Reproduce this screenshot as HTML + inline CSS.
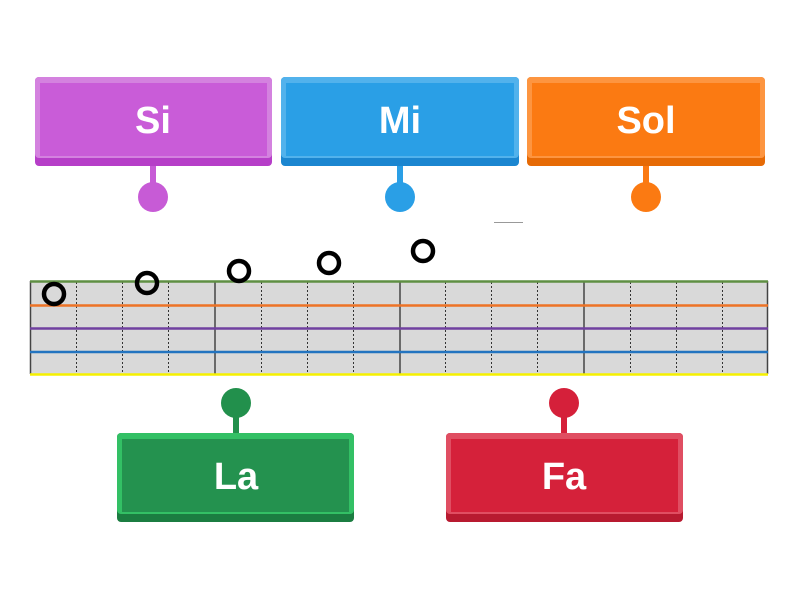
<!DOCTYPE html>
<html><head><style>html,body{margin:0;padding:0;background:#fff}svg{display:block}</style></head>
<body>
<svg width="800" height="600" viewBox="0 0 800 600" xmlns="http://www.w3.org/2000/svg" font-family="'Liberation Sans',sans-serif">
<!-- staff -->
<rect x="30" y="281" width="738" height="93" fill="#d9d9d9"/>
<g stroke="#333" stroke-width="1" stroke-dasharray="2,2">
<line x1="76.5" y1="282" x2="76.5" y2="374"/><line x1="122.5" y1="282" x2="122.5" y2="374"/><line x1="168.5" y1="282" x2="168.5" y2="374"/>
<line x1="261.5" y1="282" x2="261.5" y2="374"/><line x1="307.5" y1="282" x2="307.5" y2="374"/><line x1="353.5" y1="282" x2="353.5" y2="374"/>
<line x1="445.5" y1="282" x2="445.5" y2="374"/><line x1="491.5" y1="282" x2="491.5" y2="374"/><line x1="537.5" y1="282" x2="537.5" y2="374"/>
<line x1="630.5" y1="282" x2="630.5" y2="374"/><line x1="676.5" y1="282" x2="676.5" y2="374"/><line x1="722.5" y1="282" x2="722.5" y2="374"/>
</g>
<g stroke="#444" stroke-width="1.5">
<line x1="30.5" y1="281" x2="30.5" y2="374"/><line x1="215" y1="281" x2="215" y2="374"/><line x1="400" y1="281" x2="400" y2="374"/><line x1="584" y1="281" x2="584" y2="374"/><line x1="767.5" y1="281" x2="767.5" y2="374"/>
</g>
<line x1="30" y1="281.5" x2="768" y2="281.5" stroke="#5f8f43" stroke-width="2.5"/>
<line x1="30" y1="305.5" x2="768" y2="305.5" stroke="#ee7326" stroke-width="2.5"/>
<line x1="30" y1="328.5" x2="768" y2="328.5" stroke="#7040a0" stroke-width="2.5"/>
<line x1="30" y1="352" x2="768" y2="352" stroke="#2374c0" stroke-width="2.5"/>
<line x1="30" y1="374.5" x2="768" y2="374.5" stroke="#f5f000" stroke-width="2.5"/>
<line x1="494" y1="222.5" x2="523" y2="222.5" stroke="#999" stroke-width="1"/>
<!-- notes -->
<g fill="none" stroke="#000" stroke-width="4.5">
<circle cx="54" cy="294" r="10"/><circle cx="147" cy="283" r="10"/><circle cx="239" cy="271" r="10"/><circle cx="329" cy="263" r="10"/><circle cx="423" cy="251" r="10"/>
</g>
<!-- boxes -->
<g font-weight="bold" font-size="38" fill="#fff" text-anchor="middle">
<rect x="150" y="160" width="6" height="25" fill="#c75bd6"/><circle cx="153" cy="197" r="15" fill="#c75bd6"/>
<rect x="35" y="77" width="237" height="89" rx="4" fill="#b63ec8"/>
<rect x="35" y="77" width="237" height="81" rx="4" fill="#d482df"/>
<rect x="40" y="83" width="227" height="73" fill="#c95cd8"/>
<text x="153" y="133" fill="#fff">Si</text>
<rect x="397" y="160" width="6" height="25" fill="#2a9fe6"/><circle cx="400" cy="197" r="15" fill="#2a9fe6"/>
<rect x="281" y="77" width="238" height="89" rx="4" fill="#1b86d0"/>
<rect x="281" y="77" width="238" height="81" rx="4" fill="#52b2ec"/>
<rect x="286" y="83" width="228" height="73" fill="#2a9fe6"/>
<text x="400" y="133" fill="#fff">Mi</text>
<rect x="643" y="160" width="6" height="25" fill="#fb7a12"/><circle cx="646" cy="197" r="15" fill="#fb7a12"/>
<rect x="527" y="77" width="238" height="89" rx="4" fill="#e66a05"/>
<rect x="527" y="77" width="238" height="81" rx="4" fill="#fd9540"/>
<rect x="532" y="83" width="228" height="73" fill="#fb7a12"/>
<text x="646" y="133" fill="#fff">Sol</text>
<circle cx="236" cy="403" r="15" fill="#22904c"/><rect x="233" y="410" width="6" height="25" fill="#22904c"/>
<rect x="117" y="433" width="237" height="89" rx="4" fill="#1b7d41"/>
<rect x="117" y="433" width="237" height="81" rx="4" fill="#33c065"/>
<rect x="122" y="439" width="227" height="73" fill="#24924f"/>
<text x="236" y="489" fill="#fff">La</text>
<circle cx="564" cy="403" r="15" fill="#d5203a"/><rect x="561" y="410" width="6" height="25" fill="#d5203a"/>
<rect x="446" y="433" width="237" height="89" rx="4" fill="#b81a30"/>
<rect x="446" y="433" width="237" height="81" rx="4" fill="#e04e62"/>
<rect x="451" y="439" width="227" height="73" fill="#d5213a"/>
<text x="564" y="489" fill="#fff">Fa</text>
</g>
</svg>
</body></html>
